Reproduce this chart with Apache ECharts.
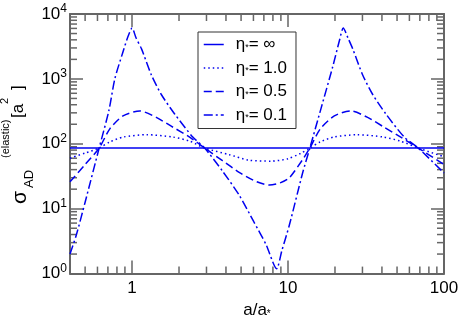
<!DOCTYPE html>
<html>
<head>
<meta charset="utf-8">
<script src="https://cdn.jsdelivr.net/npm/echarts@6/dist/echarts.min.js"></script>
<style>
  html, body { margin: 0; padding: 0; background: #fff; }
  #main { width: 463px; height: 324px; }
</style>
</head>
<body>
<div id="main"></div>
<script>
// data (x = a/a*, y = sigma in a*^2)
var xInf = [0.4, 100];
var yInf = [86, 86];

var xEta10 = [0.4, 0.5, 0.615, 0.72, 0.875, 1.24, 1.83, 2.34, 2.92, 4.2, 5.6, 7.8, 10, 12, 13.8, 16.1, 19.6, 27.7, 41, 52.5, 68.4, 100];
var yEta10 = [60, 72, 86, 107, 127, 138, 127, 110, 86, 68, 56, 54, 59, 71, 86, 107, 127, 138, 127, 110, 86, 63];

var xEta05 = [0.4, 0.5, 0.615, 0.72, 0.875, 1.12, 1.43, 1.83, 2.34, 2.92, 3.8, 4.89, 6.3, 7.6, 8.9, 10.2, 12.4, 13.8, 16.1, 19.8, 25.3, 32.4, 41.3, 52.8, 68.4, 100];
var yEta05 = [26, 48, 86, 170, 269, 321, 255, 180, 127, 86, 55, 36, 26, 23.1, 25, 30, 57, 86, 170, 269, 321, 255, 180, 127, 86, 48];

var xEta01 = [0.4, 0.44, 0.5, 0.615, 0.71, 0.775, 0.87, 0.944, 1.0, 1.06, 1.15, 1.33, 1.54, 1.88, 2.45, 2.92, 3.8, 4.89, 6.03, 7.23, 8.45, 9.12, 10.2, 12.4, 13.8, 16.3, 19.3, 21.4, 22.6, 24.2, 26.0, 30.1, 34.9, 42.5, 55.6, 68.4, 100];
var yEta01 = [2.0, 4.0, 12.6, 86, 324, 1000, 2510, 4570, 6100, 4300, 2900, 1150, 575, 286, 127, 86, 38, 15.8, 6.3, 2.8, 1.19, 2.24, 5.6, 35.5, 86, 355, 1510, 3980, 6100, 4300, 2900, 1150, 575, 286, 127, 86, 35.5];

var legendNames = ['inf', 'e10', 'e05', 'e01'];
var legendLabels = {inf: '∞', e10: '1.0', e05: '0.5', e01: '0.1'};

var xMinor = [0.5, 0.6, 0.7, 0.8, 0.9, 2, 3, 4, 5, 6, 7, 8, 9, 20, 30, 40, 50, 60, 70, 80, 90];
var yMinor = [];
[1, 10, 100, 1000].forEach(function (d) {
  for (var k = 2; k <= 9; k++) yMinor.push(k * d);
});

function pairs(xs, ys) {
  return xs.map(function (x, i) { return [x, ys[i]]; });
}

var blue = '#0000f0';
var axisColor = '#666';
var tf = 'Liberation Sans';
var dashTypes = {inf: 'solid', e10: [1.5, 3], e05: [8, 4], e01: [9, 3, 2, 3]};

var chartDom = document.getElementById('main');
var myChart = echarts.init(chartDom);

function baseX(pos, showLabel) {
  return {
    type: 'log', logBase: 10, min: 0.4, max: 100, position: pos,
    axisLine: {show: true, onZero: false, lineStyle: {color: axisColor, width: 2}},
    axisTick: {show: true, inside: true, length: 13, lineStyle: {color: axisColor, width: 1.5}},
    splitLine: {show: false},
    axisLabel: {
      show: showLabel, showMinLabel: false, color: '#000', fontSize: 17, margin: 6,
      fontFamily: tf,
      formatter: function (v) { return String(Math.round(v)); }
    }
  };
}
function baseY(pos, showLabel) {
  return {
    type: 'log', logBase: 10, min: 1, max: 10000, position: pos,
    axisLine: {show: true, onZero: false, lineStyle: {color: axisColor, width: 2}},
    axisTick: {show: true, inside: true, length: 13, lineStyle: {color: axisColor, width: 1.5}},
    splitLine: {show: false},
    axisLabel: {
      show: showLabel, color: '#000', margin: 3, fontFamily: tf,
      formatter: function (v) { return '{b|10}{s|' + Math.round(Math.log10(v)) + '}'; },
      rich: {
        b: {fontSize: 17, fontFamily: tf, color: '#000'},
        s: {fontSize: 12, fontFamily: tf, color: '#000', padding: [0, 0, 10, 0]}
      }
    }
  };
}

var xa = baseX('bottom', true);
xa.name = '{n|a/a}{sub|*}';
xa.nameLocation = 'middle';
xa.nameGap = 27;
xa.nameTextStyle = {
  rich: {
    n: {fontSize: 17, fontFamily: tf, color: '#000'},
    sub: {fontSize: 10, fontFamily: tf, color: '#000', padding: [8, 0, 0, 0]}
  }
};

function line(name, xs, ys) {
  return {
    name: name, type: 'line', data: pairs(xs, ys), symbol: 'none', smooth: 0.25,
    lineStyle: {color: blue, width: 1.5, type: dashTypes[name]},
    itemStyle: {color: blue},
    z: 3
  };
}

var option = {
  animation: false,
  grid: {left: 70, right: 19, top: 14, bottom: 44, containLabel: false},
  xAxis: [xa, baseX('top', false)],
  yAxis: [baseY('left', true), baseY('right', false)],
  legend: {
    data: legendNames.map(function (n) {
      return {name: n, lineStyle: {color: blue, width: 1.5, type: dashTypes[n]}};
    }),
    orient: 'vertical', left: 198, top: 32, z: 10,
    backgroundColor: '#fff', borderColor: '#333', borderWidth: 1,
    padding: [4, 9, 5, 5], itemWidth: 20, itemHeight: 16, itemGap: 6.5,
    itemStyle: {opacity: 0},
    formatter: function (n) { return '{g|η}{sub|*}{t|= ' + legendLabels[n] + '}'; },
    textStyle: {
      rich: {
        g: {fontSize: 17, lineHeight: 16, fontFamily: tf, color: '#000', padding: [0, 0, 0, 7]},
        sub: {fontSize: 9, lineHeight: 16, fontFamily: tf, color: '#000', padding: [6, 0, 0, 0]},
        t: {fontSize: 17, lineHeight: 16, fontFamily: tf, color: '#000'}
      }
    }
  },
  series: legendNames.map(function (n, i) {
    return line(n, [xInf, xEta10, xEta05, xEta01][i], [yInf, yEta10, yEta05, yEta01][i]);
  })
};
myChart.setOption(option);

// minor ticks on the log axes (2..9 of each decade), placed with the chart's own scales
var gfx = [];
var yTop = myChart.convertToPixel({yAxisIndex: 0}, 10000);
var yBot = myChart.convertToPixel({yAxisIndex: 0}, 1);
var xL = myChart.convertToPixel({xAxisIndex: 0}, 0.4);
var xR = myChart.convertToPixel({xAxisIndex: 0}, 100);
var tickStyle = {stroke: axisColor, lineWidth: 1.5};
xMinor.forEach(function (v) {
  var px = myChart.convertToPixel({xAxisIndex: 0}, v);
  gfx.push({type: 'line', shape: {x1: px, y1: yBot, x2: px, y2: yBot - 7}, style: tickStyle, silent: true});
  gfx.push({type: 'line', shape: {x1: px, y1: yTop, x2: px, y2: yTop + 7}, style: tickStyle, silent: true});
});
yMinor.forEach(function (v) {
  var py = myChart.convertToPixel({yAxisIndex: 0}, v);
  gfx.push({type: 'line', shape: {x1: xL, y1: py, x2: xL + 7, y2: py}, style: tickStyle, silent: true});
  gfx.push({type: 'line', shape: {x1: xR, y1: py, x2: xR - 7, y2: py}, style: tickStyle, silent: true});
});

// y axis title, each piece rotated to read bottom-to-top
function vText(str, x, y, size) {
  return {
    type: 'text', x: x, y: y, rotation: Math.PI / 2, silent: true,
    style: {text: str, fontSize: size, fontFamily: tf, fill: '#000', align: 'left', verticalAlign: 'middle'}
  };
}
gfx.push(vText('σ', 20, 204, 21));
gfx.push(vText('AD', 29, 188, 13));
gfx.push(vText('(elastic)', 6, 158, 11));
gfx.push(vText('[a', 18.5, 118, 17));
gfx.push(vText('2', 5, 104, 11));
gfx.push(vText(']', 18.5, 90, 17));
myChart.setOption({graphic: gfx});
</script>
</body>
</html>
